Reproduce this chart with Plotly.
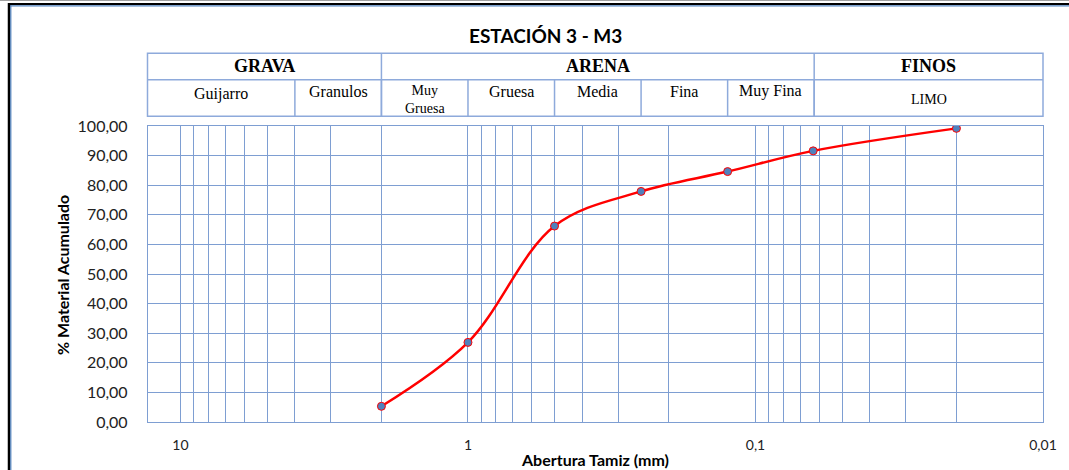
import math
import plotly.graph_objects as go

# ---- data ----
sieve_mm = [2.0, 1.0, 0.5, 0.25, 0.125, 0.063, 0.02]
pct_acum = [5.3, 26.9, 66.2, 77.9, 84.6, 91.6, 99.2]

x_tickvals = [10, 1, 0.1, 0.01]
x_ticktext = ["10", "1", "0,1", "0,01"]
minor_grid = [9, 8, 7, 6, 5, 4, 3, 2,
              0.9, 0.8, 0.7, 0.6, 0.5, 0.4, 0.3, 0.2,
              0.09, 0.08, 0.07, 0.06, 0.05, 0.04, 0.03, 0.02]

main_groups = ["GRAVA", "ARENA", "FINOS"]
main_bounds = [13.0, 2.0, 0.0625, 0.01]
sub_groups = ["Guijarro", "Granulos", "Muy<br>Gruesa", "Gruesa", "Media", "Fina", "Muy Fina", "LIMO"]
sub_bounds = [13.0, 4.0, 2.0, 1.0, 0.5, 0.25, 0.125, 0.0625, 0.01]

title = "ESTACIÓN 3 - M3"
x_title = "Abertura Tamiz (mm)"
y_title = "% Material Acumulado"

# ---- layout geometry ----
W, H = 1069, 470
L, R, T, B = 148, 26, 126, 48
PW, PH = W - L - R, H - T - B
x_lo, x_hi = math.log10(12.97), math.log10(0.01)


def xfrac(v):
    return (x_lo - math.log10(v)) / (x_lo - x_hi)


def xpx(px):
    return (px - L) / PW


def yfrac(py):
    return (H - B - py) / PH


grid_col = "#7E9ED2"
hdr_col = "#8EAADB"

fig = go.Figure()
fig.add_trace(go.Scatter(
    x=sieve_mm, y=pct_acum, mode="lines+markers",
    line=dict(color="#FF0000", width=2.5, shape="spline", smoothing=1.0),
    marker=dict(size=8, color="#4F81BD", line=dict(color="#FF0000", width=1)),
    showlegend=False, hoverinfo="x+y",
))

shapes = []
annotations = []


def label(x, y, text, font, **kw):
    annotations.append(dict(x=x, y=y, xref="paper", yref="paper", text=text, showarrow=False,
                            xanchor="center", yanchor="middle", font=font, **kw))


# header table
y_top, y_mid, y_bot = yfrac(53.3), yfrac(79.7), yfrac(116.3)
shapes.append(dict(type="rect", xref="paper", yref="paper", x0=xpx(147.5), x1=1, y0=y_bot, y1=y_top,
                   line=dict(color=hdr_col, width=1.5)))
shapes.append(dict(type="line", xref="paper", yref="paper", x0=xpx(147.5), x1=1, y0=y_mid, y1=y_mid,
                   line=dict(color=hdr_col, width=1.5)))
for b in main_bounds[1:-1]:
    shapes.append(dict(type="line", xref="paper", yref="paper", x0=xfrac(b), x1=xfrac(b),
                       y0=y_bot, y1=y_top, line=dict(color=hdr_col, width=1.5)))
for b in sub_bounds[1:-1]:
    shapes.append(dict(type="line", xref="paper", yref="paper", x0=xfrac(b), x1=xfrac(b),
                       y0=y_bot, y1=y_mid, line=dict(color=hdr_col, width=1.5)))

for i, name in enumerate(main_groups):
    xc = (xfrac(main_bounds[i]) + xfrac(main_bounds[i + 1])) / 2
    label(xc, yfrac(66.5), f"<b>{name}</b>", dict(family="Liberation Serif", size=18, color="#000"))
for i, name in enumerate(sub_groups):
    xc = (xfrac(sub_bounds[i]) + xfrac(sub_bounds[i + 1])) / 2
    if "<br>" in name:
        yc, fs = yfrac(100), 14
    elif name == "LIMO":
        yc, fs = yfrac(100), 14
    elif name == "Guijarro":
        yc, fs = yfrac(94), 16
    else:
        yc, fs = yfrac(91), 16
    label(xc, yc, name, dict(family="Liberation Serif", size=fs, color="#000"))

# title and axis titles
label(xpx(545), yfrac(35), f"<b>{title}</b>", dict(family="Lato", size=19, color="#000"))
label(xpx(595), yfrac(459), f"<b>{x_title}</b>", dict(family="Lato", size=16, color="#000"))
label(xpx(62), yfrac(275), f"<b>{y_title}</b>", dict(family="Lato", size=16, color="#000"), textangle=-90)

# outer frame
shapes.append(dict(type="line", xref="paper", yref="paper", x0=xpx(0), x1=xpx(W),
                   y0=yfrac(0.5), y1=yfrac(0.5), line=dict(color="#A0A0A0", width=1)))
shapes.append(dict(type="line", xref="paper", yref="paper", x0=xpx(8), x1=xpx(W),
                   y0=yfrac(4), y1=yfrac(4), line=dict(color="#000", width=2)))
shapes.append(dict(type="line", xref="paper", yref="paper", x0=xpx(10), x1=xpx(W),
                   y0=yfrac(5.8), y1=yfrac(5.8), line=dict(color="#4F81BD", width=1.2)))
shapes.append(dict(type="line", xref="paper", yref="paper", x0=xpx(9), x1=xpx(9),
                   y0=yfrac(3), y1=yfrac(H), line=dict(color="#000", width=2.5)))
shapes.append(dict(type="line", xref="paper", yref="paper", x0=xpx(10.8), x1=xpx(10.8),
                   y0=yfrac(5.5), y1=yfrac(H), line=dict(color="#4F81BD", width=1.2)))

fig.update_layout(
    width=W, height=H,
    margin=dict(l=L, r=R, t=T, b=B),
    paper_bgcolor="white", plot_bgcolor="white",
    separators=",.",
    shapes=shapes, annotations=annotations,
    font=dict(family="Lato", size=15, color="#222"),
    xaxis=dict(type="log", range=[x_lo, x_hi], tickvals=x_tickvals, ticktext=x_ticktext,
               showgrid=True, gridcolor=grid_col, gridwidth=1.3,
               minor=dict(tickvals=minor_grid, showgrid=True, gridcolor=grid_col, gridwidth=1.3, ticklen=0),
               showline=True, linecolor=grid_col, linewidth=1.3, mirror=True,
               ticks="", ticklabelstandoff=10, zeroline=False,
               tickfont=dict(family="Lato", size=14, color="#222")),
    yaxis=dict(range=[0, 100], dtick=10, tickformat=".2f",
               showgrid=True, gridcolor=grid_col, gridwidth=1.3,
               showline=True, linecolor=grid_col, linewidth=1.3, mirror=True,
               ticks="", ticklabelstandoff=16, zeroline=False,
               tickfont=dict(family="Lato", size=16, color="#222")),
)

fig.write_html("out.html")
